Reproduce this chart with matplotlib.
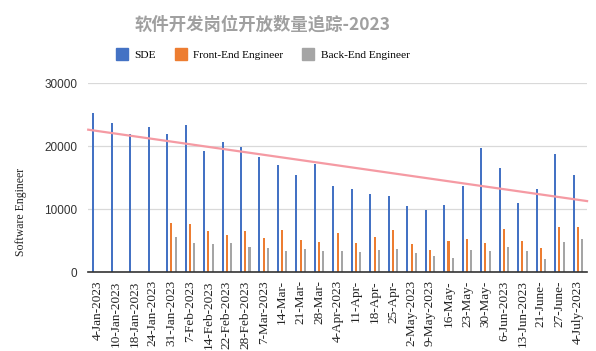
import numpy as np
import matplotlib
matplotlib.use("Agg")
import matplotlib.pyplot as plt
from matplotlib.lines import Line2D

# weekly dates (as shown on the axis)
dates = ["4-Jan-2023", "10-Jan-2023", "18-Jan-2023", "24-Jan-2023", "31-Jan-2023",
         "7-Feb-2023", "14-Feb-2023", "22-Feb-2023", "28-Feb-2023", "7-Mar-2023",
         "14-Mar-", "21-Mar-", "28-Mar-", "4-Apr-2023", "11-Apr-", "18-Apr-",
         "25-Apr-", "2-May-2023", "9-May-2023", "16-May-", "23-May-", "30-May-",
         "6-Jun-2023", "13-Jun-2023", "21-June-", "27-June-", "4-July-2023"]

sde = [25300, 23700, 21950, 23000, 21950, 23400, 19200, 20600, 19900, 18200,
       16950, 15350, 17100, 13650, 13100, 12400, 12050, 10500, 9850, 10650,
       13650, 19750, 16550, 10950, 13250, 18700, 15350]
front_end = [0, 0, 0, 0, 7850, 7700, 6450, 5950, 6450, 5350,
             6650, 5100, 4700, 6150, 4550, 5600, 6650, 4450, 3500, 4900,
             5250, 4550, 6850, 4900, 3850, 7150, 7150]
back_end = [0, 0, 0, 0, 5600, 4550, 4400, 4550, 4000, 3800,
            3350, 3650, 3300, 3300, 3100, 3500, 3650, 3000, 2550, 2250,
            3500, 3300, 4000, 3300, 2050, 4700, 5250]

c_sde = "#4472C4"
c_fe = "#ED7D31"
c_be = "#A5A5A5"

fig = plt.figure(figsize=(5.96, 3.51), dpi=100)
ax = fig.add_axes([0.148, 0.225, 0.837, 0.5385])

x = np.arange(len(dates))
w = 0.11
ax.bar(x - 0.23, sde, w, color=c_sde, zorder=3, antialiased=False)
ax.bar(x, front_end, w, color=c_fe, zorder=3, antialiased=False)
ax.bar(x + 0.23, back_end, w, color=c_be, zorder=3, antialiased=False)

# linear trendline of SDE
k, b = np.polyfit(x, sde, 1)
xt = np.array([-0.5, len(dates) - 0.5])
ax.plot(xt, k * xt + b, color="#f59aa3", lw=1.6, zorder=4, clip_on=False)

ax.set_xlim(-0.5, len(dates) - 0.5)
ax.set_ylim(0, 30000)
ax.set_yticks([0, 10000, 20000, 30000])
ax.tick_params(axis="y", length=0, labelsize=8.5, pad=8, labelcolor="#333333")
for t in ax.get_yticklabels():
    t.set_family("Liberation Sans")
ax.set_xticks(x)
ax.set_xticklabels(dates, rotation=90, family="Liberation Serif", fontsize=9.5, color="#222222")
ax.tick_params(axis="x", length=0, pad=6)
ax.grid(axis="y", color="#d9d9d9", lw=0.9, zorder=0)
for s in ["top", "right", "left"]:
    ax.spines[s].set_visible(False)
ax.spines["bottom"].set_color("#333333")
ax.spines["bottom"].set_linewidth(1.2)
ax.spines["bottom"].set_zorder(5)

fig.text(0.035, 0.395, "Software Engineer", rotation=90, ha="center", va="center",
         family="Liberation Serif", fontsize=8.5, color="#222222")

fig.text(0.441, 0.93, "软件开发岗位开放数量追踪-2023", ha="center", va="center",
         family=["Noto Sans CJK SC", "DejaVu Sans"], fontsize=12.5, fontweight="bold",
         color="#a0a0a0")

handles = [Line2D([], [], marker="s", ls="", color=c, markersize=8) for c in (c_sde, c_fe, c_be)]
fig.legend(handles, ["SDE", "Front-End Engineer", "Back-End Engineer"], loc="center",
           bbox_to_anchor=(0.441, 0.843), ncol=3, frameon=False, handletextpad=0.6,
           handlelength=1.0, columnspacing=1.7, prop={"family": "Liberation Serif", "size": 8.2})

fig.savefig("out.png", dpi=100)
